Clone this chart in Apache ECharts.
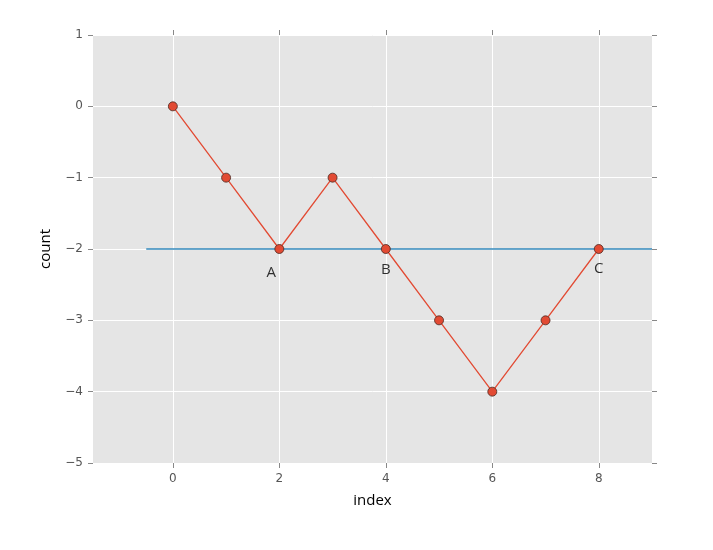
<!DOCTYPE html>
<html><head><meta charset="utf-8">
<script src="https://cdn.jsdelivr.net/npm/echarts@6/dist/echarts.min.js"></script>
<style>html,body{margin:0;padding:0;background:#fff}#c{width:713px;height:550px}</style>
</head><body><div id="c"></div>
<script>
const xValues = [0, 1, 2, 3, 4, 5, 6, 7, 8];
const counts = [0, -1, -2, -1, -2, -3, -4, -3, -2];
const baselineX = [-0.5, 9];
const baselineY = -2;
const annotNames = ['A', 'B', 'C'];
const annotX = [2, 4, 8];
const annotY = [-2, -2, -2];
const xTicks = [0, 2, 4, 6, 8];

const annotOffsets = [[-8, 24], [0, 21], [0, 20]];
const minus = v => String(v).replace('-', '\u2212');
const tickStyle = {show: true, inside: false, length: 5, lineStyle: {color: '#888', width: 1}};
const labelStyle = {color: '#555', fontSize: 12, fontFamily: 'DejaVu Sans'};
const noLine = {show: false, onZero: false};
const chart = echarts.init(document.getElementById('c'));
chart.setOption({
  animation: false,
  backgroundColor: '#fff',
  grid: {left: 93, right: 61, top: 35, bottom: 87, show: true, backgroundColor: '#E5E5E5', borderWidth: 0},
  xAxis: [{
    type: 'value', min: -1.5, max: 9, position: 'bottom',
    name: 'index', nameLocation: 'middle', nameGap: 30,
    nameTextStyle: {color: '#000', fontSize: 15, fontFamily: 'Open Sans'},
    axisLine: noLine,
    axisTick: Object.assign({customValues: xTicks}, tickStyle),
    axisLabel: Object.assign({customValues: xTicks, margin: 10, formatter: minus}, labelStyle),
    splitLine: {show: true, lineStyle: {color: '#fff', width: 1}}
  }, {
    type: 'value', min: -1.5, max: 9, position: 'top',
    axisLine: noLine,
    axisTick: Object.assign({customValues: xTicks}, tickStyle),
    axisLabel: {show: false, customValues: xTicks},
    splitLine: {show: false}
  }],
  yAxis: [{
    type: 'value', min: -5, max: 1, interval: 1, position: 'left',
    name: 'count', nameLocation: 'middle', nameGap: 40, nameRotate: 90,
    nameTextStyle: {color: '#000', fontSize: 15, fontFamily: 'Open Sans'},
    axisLine: noLine,
    axisTick: tickStyle,
    axisLabel: Object.assign({margin: 10, formatter: minus}, labelStyle),
    splitLine: {show: true, lineStyle: {color: '#fff', width: 1}}
  }, {
    type: 'value', min: -5, max: 1, interval: 1, position: 'right',
    axisLine: noLine,
    axisTick: tickStyle,
    axisLabel: {show: false},
    splitLine: {show: false}
  }],
  series: [{
    type: 'line',
    data: baselineX.map(x => [x, baselineY]),
    showSymbol: false, symbol: 'none',
    lineStyle: {color: '#348ABD', width: 1.3},
    z: 2
  }, {
    type: 'line',
    data: xValues.map((x, i) => [x, counts[i]]),
    symbol: 'circle', symbolSize: 9, showSymbol: true,
    lineStyle: {color: '#E24A33', width: 1.3},
    itemStyle: {color: '#E24A33', borderColor: '#4a2a22', borderWidth: 0.8},
    z: 3
  }, {
    type: 'scatter',
    data: annotX.map((x, i) => ({value: [x, annotY[i]], name: annotNames[i], label: {offset: annotOffsets[i]}})),
    symbolSize: 0,
    label: {
      show: true, position: 'inside', formatter: p => p.name,
      color: '#000', fontSize: 15, fontFamily: 'Open Sans'
    },
    z: 4
  }]
});
</script></body></html>
